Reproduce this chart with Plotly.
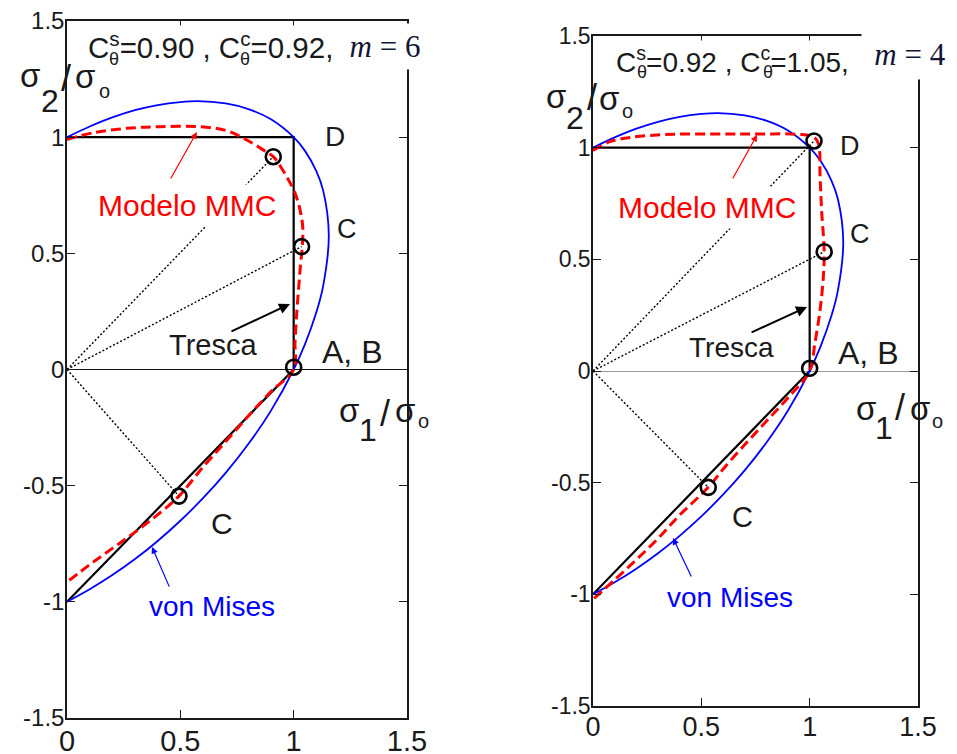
import plotly.graph_objects as go

FONT = "Liberation Sans, Arial, Helvetica, sans-serif"
SERIF = "Liberation Serif, Times New Roman, serif"

# ---------------- data ----------------
x_ticks = [0, 0.5, 1, 1.5]
x_tick_text = ["0", "0.5", "1", "1.5"]
y_ticks = [-1.5, -1, -0.5, 0, 0.5, 1, 1.5]
y_tick_text = ["-1.5", "-1", "-0.5", "0", "0.5", "1", "1.5"]

# Tresca
tresca_s1 = [0, 1, 1, 0]
tresca_s2 = [1, 1, 0, -1]

# von Mises
vm_s1 = [0, 0.1, 0.2, 0.3, 0.4, 0.5, 0.577, 0.7, 0.8, 0.9, 1.0, 1.05, 1.1, 1.13, 1.155,
         1.13, 1.1, 1.05, 1.0, 0.9, 0.8, 0.7, 0.6, 0.5, 0.4, 0.3, 0.2, 0.1, 0]
vm_s2 = [1.0, 1.046, 1.085, 1.116, 1.138, 1.151, 1.155, 1.145, 1.121, 1.077, 1.0, 0.941, 0.854, 0.771, 0.577,
         0.359, 0.246, 0.109, 0.0, -0.177, -0.321, -0.445, -0.554, -0.651, -0.738, -0.816, -0.885, -0.946, -1.0]

# Modelo MMC, m = 6 (left)
mmc6_s1 = [0, 0.116, 0.263, 0.41, 0.587, 0.704, 0.793, 0.866, 0.91, 0.969, 1.006, 1.028, 1.04, 1.038,
           1.03, 1.022, 1.014, 1.006, 1.0, 0.9, 0.8, 0.7, 0.6, 0.494, 0.4, 0.3, 0.2, 0.1, 0]
mmc6_s2 = [0.99, 1.019, 1.038, 1.045, 1.045, 1.028, 0.988, 0.945, 0.916, 0.83, 0.759, 0.687, 0.615, 0.529,
           0.45, 0.35, 0.25, 0.12, 0.0, -0.095, -0.2, -0.31, -0.42, -0.545, -0.625, -0.70, -0.77, -0.84, -0.915]

# Modelo MMC, m = 4 (right)
mmc4_s1 = [0, 0.078, 0.171, 0.371, 0.6, 0.755, 0.94, 1.017, 1.04, 1.048, 1.055, 1.067, 1.063, 1.048,
           1.024, 1.0, 0.9, 0.8, 0.7, 0.6, 0.532, 0.4, 0.3, 0.2, 0.1, 0]
mmc4_s2 = [0.987, 1.027, 1.046, 1.06, 1.061, 1.061, 1.06, 1.049, 1.02, 0.87, 0.72, 0.534, 0.42, 0.273,
           0.124, 0.0, -0.12, -0.225, -0.33, -0.44, -0.521, -0.645, -0.75, -0.845, -0.935, -1.022]

# marked points (D, C, A-B, C)
pts6_s1 = [0.91, 1.035, 1.0, 0.494]
pts6_s2 = [0.916, 0.529, 0.01, -0.545]
pts4_s1 = [1.02, 1.067, 1.0, 0.532]
pts4_s2 = [1.03, 0.534, 0.012, -0.521]

# ---------------- figure ----------------
fig = go.Figure()


def add_panel(xa, ya, mmc_x, mmc_y, px, py):
    common = dict(xaxis=xa, yaxis=ya, showlegend=False, hoverinfo="skip")
    fig.add_trace(go.Scatter(x=tresca_s1, y=tresca_s2, mode="lines",
                             line=dict(color="black", width=2.2), **common))
    fig.add_trace(go.Scatter(x=vm_s1, y=vm_s2, mode="lines", line_shape="spline",
                             line=dict(color="#0000ff", width=1.8), **common))
    fig.add_trace(go.Scatter(x=mmc_x, y=mmc_y, mode="lines", line_shape="spline",
                             line=dict(color="#ff0000", width=3, dash="10px,5px"), **common))
    rx, ry = [], []
    for i in (0, 1, 3):
        rx += [0, px[i], None]
        ry += [0, py[i], None]
    fig.add_trace(go.Scatter(x=rx, y=ry, mode="lines",
                             line=dict(color="black", width=1.4, dash="2px,2px"), **common))
    fig.add_trace(go.Scatter(x=px, y=py, mode="markers", cliponaxis=False,
                             marker=dict(symbol="circle-open", size=15, color="black",
                                         line=dict(width=2.6, color="black")), **common))


add_panel("x", "y", mmc6_s1, mmc6_s2, pts6_s1, pts6_s2)
add_panel("x2", "y2", mmc4_s1, mmc4_s2, pts4_s1, pts4_s2)

W, H = 957, 754


def ax_common(size):
    return dict(showgrid=False, showline=True, linecolor="#1a1a1a", linewidth=1.5,
                mirror="ticks", ticks="inside", ticklen=8, tickwidth=1, tickcolor="#1a1a1a",
                automargin=False, ticklabelstandoff=-4,
                tickfont=dict(family=FONT, size=size, color="#1a1a1a"), fixedrange=True)


fig.update_layout(
    width=W, height=H, margin=dict(l=0, r=0, t=0, b=0, autoexpand=False),
    paper_bgcolor="white", plot_bgcolor="white", showlegend=False,
    xaxis=dict(domain=[67 / W, 407 / W], range=[0, 1.5], anchor="y", zeroline=False,
               tickvals=x_ticks, ticktext=x_tick_text, **ax_common(29)),
    yaxis=dict(domain=[1 - 718 / H, 1 - 21 / H], range=[-1.5, 1.5], anchor="x",
               zeroline=True, zerolinecolor="#111", zerolinewidth=1.2,
               tickvals=y_ticks, ticktext=y_tick_text, **ax_common(24)),
    xaxis2=dict(domain=[593 / W, 918 / W], range=[0, 1.5], anchor="y2", zeroline=False,
                tickvals=x_ticks, ticktext=x_tick_text, **ax_common(27)),
    yaxis2=dict(domain=[1 - 706 / H, 1 - 36 / H], range=[-1.5, 1.5], anchor="x2",
                zeroline=True, zerolinecolor="#999", zerolinewidth=1.2,
                tickvals=y_ticks, ticktext=y_tick_text, **ax_common(23)),
)

ann = []


def text(xr, yr, x, y, t, size, color="#1a1a1a", family=FONT, **kw):
    d = dict(xref=xr, yref=yr, x=x, y=y, text=t, showarrow=False,
             font=dict(family=family, size=size, color=color))
    d.update(kw)
    ann.append(d)


def ptext(px, py, t, size):
    # text placed in paper pixels (centre of its box)
    ann.append(dict(xref="paper", yref="paper", x=px / W, y=1 - py / H, text=t,
                    showarrow=False, xanchor="center", yanchor="middle",
                    font=dict(family=FONT, size=size, color="#1a1a1a")))


def sigma_label(sub, pos):
    # pos: centres of  sigma, subscript digit, slash, sigma, small 'o'
    (x1, y1), (x2, y2), (x3, y3), (x4, y4), (x5, y5) = pos
    ptext(x1, y1, "σ", 33)
    ptext(x2, y2, sub, 32)
    ptext(x3, y3, "/", 36)
    ptext(x4, y4, "σ", 33)
    ptext(x5, y5, "o", 20)


def arrow(xr, yr, tail, head, color, width):
    ann.append(dict(xref=xr, yref=yr, axref=xr, ayref=yr, x=head[0], y=head[1],
                    ax=tail[0], ay=tail[1], text="", showarrow=True, arrowhead=2,
                    arrowsize=1.1, arrowwidth=width, arrowcolor=color, standoff=0))


# ---- left panel (m = 6) ----
L = ("x", "y")
text(*L, 0.631, 1.393, "C<sup>s</sup>=0.90 , C<sup>c</sup>=0.92,", 29.5, bgcolor="white")
text(*L, 0.207, 1.338, "θ", 18)
text(*L, 0.787, 1.338, "θ", 18)
text(*L, 1.403, 1.390, "<i>m</i> = 6", 31, color="#141436", family=SERIF,
     bgcolor="white", width=90, height=43)
sigma_label("2", [(29.5, 75.5), (50, 101), (66, 79), (84.5, 76.5), (104, 91)])
sigma_label("1", [(349, 410.5), (368, 430), (385, 413), (404.5, 410.5), (423, 421)])
text(*L, 1.182, 1.005, "D", 28)
text(*L, 1.235, 0.605, "C", 27)
text(*L, 1.257, 0.075, "A, B", 32)
text(*L, 0.644, 0.105, "Tresca", 29)
text(*L, 0.529, 0.704, "Modelo MMC", 30, color="#ff0000", bgcolor="white", borderpad=4)
text(*L, 0.684, -0.661, "C", 30)
text(*L, 0.64, -1.022, "von Mises", 28, color="#0000ff")
arrow(*L, (0.454, 0.816), (0.573, 1.022), "#ff0000", 1.2)
arrow(*L, (0.719, 0.161), (0.984, 0.282), "black", 2)
arrow(*L, (0.454, -0.941), (0.375, -0.764), "#0000ff", 1.2)

# ---- right panel (m = 4) ----
R = ("x2", "y2")
text(*R, 0.646, 1.393, "C<sup>s</sup>=0.92 , C<sup>c</sup>=1.05,", 28, bgcolor="white")
text(*R, 0.226, 1.338, "θ", 18)
text(*R, 0.808, 1.338, "θ", 18)
text(*R, 1.463, 1.42, "<i>m</i> = 4", 31, color="#141436", family=SERIF,
     bgcolor="white", width=94, height=48)
sigma_label("2", [(555.5, 96.5), (575, 118), (591.5, 97.4), (608.5, 98.5), (627, 111)])
sigma_label("1", [(866, 408.5), (884, 428), (900, 407.4), (920, 408.5), (937, 421)])
text(*R, 1.186, 1.008, "D", 27)
text(*R, 1.232, 0.614, "C", 27)
text(*R, 1.269, 0.081, "A, B", 32)
text(*R, 0.641, 0.107, "Tresca", 28)
text(*R, 0.526, 0.734, "Modelo MMC", 30, color="#ff0000", bgcolor="white", borderpad=4)
text(*R, 0.688, -0.654, "C", 29)
text(*R, 0.632, -1.012, "von Mises", 28, color="#0000ff")
arrow(*R, (0.641, 0.855), (0.757, 1.057), "#ff0000", 1.2)
arrow(*R, (0.725, 0.170), (0.988, 0.287), "black", 2)
arrow(*R, (0.457, -0.927), (0.369, -0.748), "#0000ff", 1.2)

fig.update_layout(annotations=ann)
# remove the browser's default 8px page margin so the figure sits at the window's corner
fig.write_html("out.html", config={"displayModeBar": False},
               post_script="document.body.style.margin='0';document.body.style.overflow='hidden';")
